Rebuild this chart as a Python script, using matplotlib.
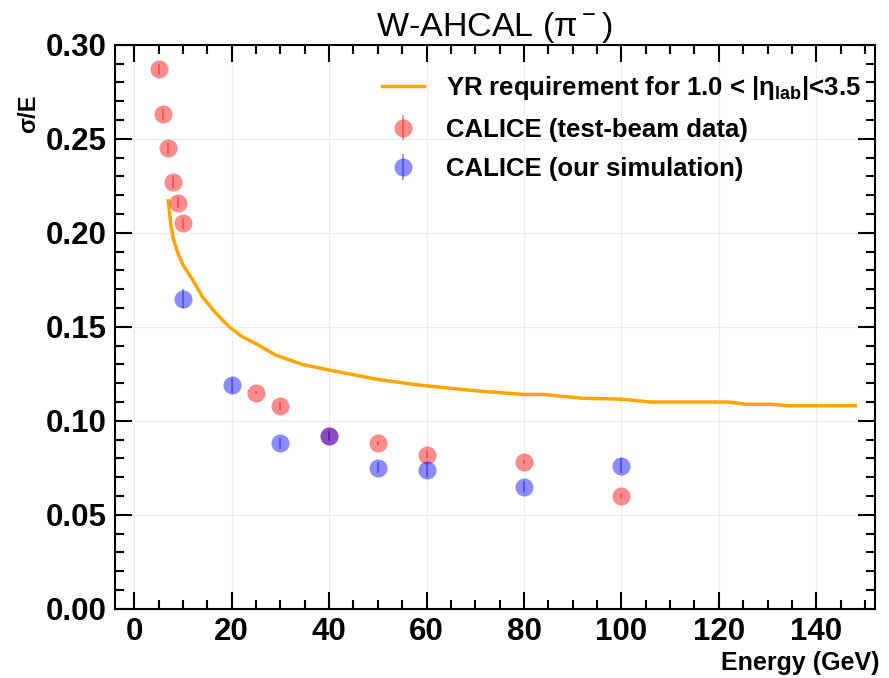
import matplotlib
matplotlib.use("Agg")
import matplotlib.pyplot as plt
from matplotlib.ticker import MultipleLocator

plt.rcParams["font.family"] = ["Liberation Sans", "DejaVu Sans"]
plt.rcParams["mathtext.fontset"] = "custom"
plt.rcParams["mathtext.rm"] = "Liberation Sans"
plt.rcParams["mathtext.bf"] = "Liberation Sans:bold"

# YR requirement curve
yr_energy = [7.0, 7.5, 8.0, 9.0, 10.0, 12.0, 14.0, 16.5, 19.5, 22.0, 25.0, 29.0,
             34.5, 40.0, 50.0, 58.5, 70.0, 80.0, 84.0, 92.0, 100.0, 106.0, 122.0,
             125.5, 131.0, 134.0, 148.0]
yr_res = [0.217, 0.205, 0.197, 0.189, 0.183, 0.175, 0.166, 0.158, 0.150, 0.145,
          0.141, 0.135, 0.130, 0.127, 0.122, 0.119, 0.116, 0.114, 0.114, 0.112,
          0.1115, 0.110, 0.110, 0.1088, 0.1088, 0.108, 0.108]

# CALICE test-beam data
data_energy = [5, 6, 7, 8, 9, 10, 25, 30, 40, 50, 60, 80, 100]
data_res = [0.287, 0.263, 0.245, 0.227, 0.216, 0.205, 0.115, 0.108, 0.092,
            0.088, 0.082, 0.078, 0.060]
data_err = [0.003, 0.003, 0.003, 0.003, 0.003, 0.003, 0.001, 0.002, 0.002,
            0.001, 0.002, 0.001, 0.001]

# CALICE our simulation
sim_energy = [10, 20, 30, 40, 50, 60, 80, 100]
sim_res = [0.165, 0.119, 0.088, 0.092, 0.075, 0.074, 0.065, 0.076]
sim_err = [0.005, 0.004, 0.003, 0.003, 0.003, 0.004, 0.003, 0.004]

fig = plt.figure(figsize=(8.89, 6.78), dpi=100)
ax = fig.add_axes([0.129, 0.102, 0.855, 0.832])

ax.plot(yr_energy, yr_res, color="orange", lw=2.5,
        label=r"YR requirement for 1.0 < |η$_{\mathbf{lab}}$|<3.5")
ax.errorbar(data_energy, data_res, yerr=data_err, fmt="o", color="red",
            alpha=0.45, ms=13, mew=0, elinewidth=1.2,
            label="CALICE (test-beam data)")
ax.errorbar(sim_energy, sim_res, yerr=sim_err, fmt="o", color="blue",
            alpha=0.45, ms=13, mew=0, elinewidth=1.2,
            label="CALICE (our simulation)")

ax.set_xlim(-4, 152)
ax.set_ylim(0, 0.30)
ax.xaxis.set_major_locator(MultipleLocator(20))
ax.xaxis.set_minor_locator(MultipleLocator(5))
ax.yaxis.set_major_locator(MultipleLocator(0.05))
ax.yaxis.set_minor_locator(MultipleLocator(0.01))
ax.yaxis.set_major_formatter(plt.FormatStrFormatter("%.2f"))
ax.tick_params(which="both", direction="in", top=True, right=True, width=1.5)
ax.tick_params(which="major", length=12, labelsize=22.5, pad=6)
ax.tick_params(which="minor", length=6.5)
for lbl in ax.get_xticklabels() + ax.get_yticklabels():
    lbl.set_fontweight("bold")
for sp in ax.spines.values():
    sp.set_linewidth(1.5)
ax.grid(True, which="major", color="#ececec", lw=0.8)
ax.set_axisbelow(True)

ax.set_xlabel("Energy (GeV)", fontsize=18, fontweight="bold", loc="right")
ax.xaxis.set_label_coords(1.006, -0.074)
ax.set_ylabel("σ/E", fontsize=17, fontweight="bold", loc="top")
ax.yaxis.set_label_coords(-0.0975, 0.911)
ax.set_title(r"W-AHCAL (π$^-$)", fontsize=24.5, pad=5)

ax.legend(loc="upper right", bbox_to_anchor=(1.0, 0.973), frameon=False,
          prop={"weight": "bold", "size": 18.5},
          handlelength=1.65, handletextpad=0.85, borderaxespad=0.15,
          labelspacing=0.6)

fig.savefig("out.png", dpi=100)
